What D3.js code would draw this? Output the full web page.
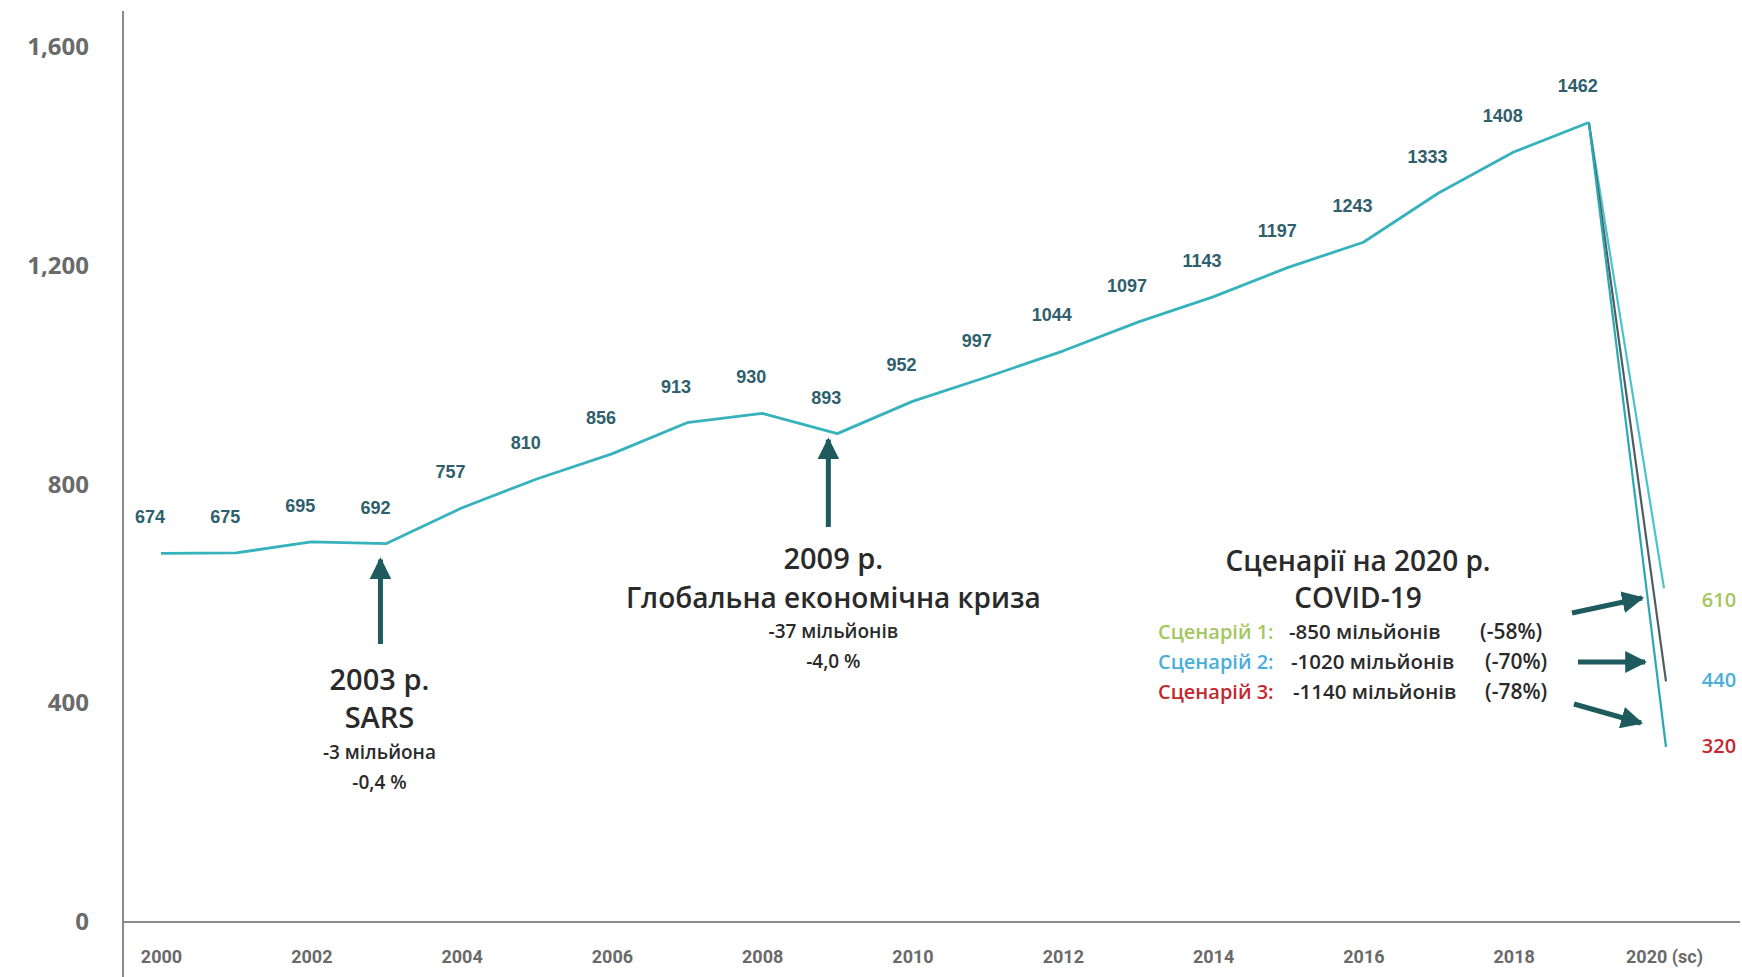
<!DOCTYPE html>
<html>
<head>
<meta charset="utf-8">
<script src="https://cdn.jsdelivr.net/npm/d3@7"></script>
<style>
  body { margin: 0; background: #fff; }
  svg { display: block; }
</style>
</head>
<body>
<svg width="1742" height="977"></svg>
<script>
// data
const years = [2000, 2001, 2002, 2003, 2004, 2005, 2006, 2007, 2008, 2009,
               2010, 2011, 2012, 2013, 2014, 2015, 2016, 2017, 2018, 2019];
const arrivals = [674, 675, 695, 692, 757, 810, 856, 913, 930, 893,
                  952, 997, 1044, 1097, 1143, 1197, 1243, 1333, 1408, 1462];
const scenarioYear = 2020;
const scenarioValues = [610, 440, 320];
const scenarioNames = ["Сценарій 1:", "Сценарій 2:", "Сценарій 3:"];
const scenarioLoss = ["-850 мільйонів", "-1020 мільйонів", "-1140 мільйонів"];
const scenarioPct = ["(-58%)", "(-70%)", "(-78%)"];
const scenarioColors = ["#a4c75f", "#4aaedb", "#c3282e"];
const scenarioLineColors = ["#4cc2cd", "#4f5d61", "#2ba8b2"];
const yTicks = [0, 400, 800, 1200, 1600];
const xTicks = [2000, 2002, 2004, 2006, 2008, 2010, 2012, 2014, 2016, 2018, 2020];

const svg = d3.select("svg");
const teal = "#36b2bd";
const dark = "#1d5b5e";
const font = "'Open Sans', sans-serif";

const x = d3.scaleLinear().domain([2000, 2020]).range([161, 1664]);
const y = d3.scaleLinear().domain([0, 1600]).range([922, 47]);

// arrow head
svg.append("defs").append("marker")
    .attr("id", "head")
    .attr("viewBox", "0 0 10 10")
    .attr("refX", 9)
    .attr("refY", 5)
    .attr("markerWidth", 4.4)
    .attr("markerHeight", 4.4)
    .attr("markerUnits", "strokeWidth")
    .attr("orient", "auto")
    .append("path")
    .attr("d", "M0,0 L10,5 L0,10 z")
    .attr("fill", dark);

// axes
const yAxis = svg.append("g")
    .attr("transform", `translate(123,0)`)
    .call(d3.axisLeft(y).tickValues(yTicks).tickFormat(d3.format(",")).tickSize(0).tickPadding(34));
yAxis.select(".domain").remove();
yAxis.selectAll("text")
    .attr("font-family", font)
    .attr("font-weight", 700)
    .attr("font-size", 24)
    .attr("fill", "#6a6a6a");

const xAxis = svg.append("g")
    .attr("transform", `translate(0,${y(0)})`)
    .call(d3.axisBottom(x).tickValues(xTicks)
        .tickFormat(d => d === 2020 ? "2020 (sc)" : d).tickSize(0).tickPadding(28));
xAxis.select(".domain").remove();
xAxis.selectAll("text")
    .attr("font-family", "Roboto, sans-serif")
    .attr("font-weight", 700)
    .attr("font-size", 18)
    .attr("fill", "#6a6a6a");

svg.append("line")
    .attr("x1", 123).attr("x2", 123)
    .attr("y1", 11).attr("y2", 977)
    .attr("stroke", "#8a8a8a").attr("stroke-width", 2);
svg.append("line")
    .attr("x1", 123).attr("x2", 1740)
    .attr("y1", y(0)).attr("y2", y(0))
    .attr("stroke", "#8a8a8a").attr("stroke-width", 2);

// scenario drops from the last real year
const last = arrivals[arrivals.length - 1];
scenarioValues.forEach((v, i) => {
    svg.append("line")
        .attr("x1", x(2019)).attr("y1", y(last))
        .attr("x2", x(scenarioYear) + (i === 0 ? 0 : 2)).attr("y2", y(v))
        .attr("stroke", scenarioLineColors[i])
        .attr("stroke-width", 2.2);
});

// main line
const line = d3.line()
    .x((d, i) => x(years[i]))
    .y(d => y(d));

svg.append("path")
    .datum(arrivals)
    .attr("d", line)
    .attr("fill", "none")
    .attr("stroke", teal)
    .attr("stroke-width", 2.8)
    .attr("stroke-linejoin", "round");

// value labels
svg.append("g").selectAll("text")
    .data(arrivals)
    .join("text")
    .attr("x", (d, i) => x(years[i]) - 11)
    .attr("y", d => y(d) - 30)
    .attr("text-anchor", "middle")
    .attr("font-family", "'Liberation Sans', Arial, sans-serif")
    .attr("font-weight", 700)
    .attr("font-size", 18)
    .attr("fill", "#2f5f6c")
    .text(d => d);

// vertical annotation arrows
const arrow = (x1, y1, x2, y2) => {
    svg.append("line")
        .attr("x1", x1).attr("y1", y1)
        .attr("x2", x2).attr("y2", y2)
        .attr("stroke", dark)
        .attr("stroke-width", 5)
        .attr("marker-end", "url(#head)");
};

const note = (cx, lines) => {
    lines.forEach(l => {
        svg.append("text")
            .attr("x", cx).attr("y", l[0])
            .attr("text-anchor", "middle")
            .attr("font-family", font)
            .attr("font-weight", 600)
            .attr("font-size", l[2])
            .attr("fill", "#2a2a2a")
            .text(l[1]);
    });
};

arrow(x(2003) - 6, 644, x(2003) - 6, y(692) + 16);
note(x(2003) - 7, [[690, "2003 р.", 29], [728, "SARS", 29], [759, "-3 мільйона", 19], [789, "-0,4 %", 19]]);

arrow(x(2009) - 9, 527, x(2009) - 9, y(893) + 6);
note(x(2009) - 4, [[569, "2009 р.", 29], [608, "Глобальна економічна криза", 28], [638, "-37 мільйонів", 19], [668, "-4,0 %", 19]]);

note(1358, [[571, "Сценарії на 2020 р.", 28], [608, "COVID-19", 28]]);

// scenario rows
scenarioNames.forEach((n, i) => {
    const ty = 639 + i * 30;
    svg.append("text")
        .attr("x", 1158).attr("y", ty)
        .attr("font-family", font).attr("font-weight", 600).attr("font-size", 20)
        .attr("fill", scenarioColors[i])
        .text(n);
    svg.append("text")
        .attr("x", 1289 + i * 2).attr("y", ty)
        .attr("font-family", font).attr("font-weight", 600).attr("font-size", 20.5)
        .attr("fill", "#2a2a2a")
        .text(scenarioLoss[i]);
    svg.append("text")
        .attr("x", 1480 + (i ? 5 : 0)).attr("y", ty)
        .attr("font-family", font).attr("font-weight", 600).attr("font-size", 21)
        .attr("fill", "#2a2a2a")
        .text(scenarioPct[i]);
    svg.append("text")
        .attr("x", 1719).attr("y", y(scenarioValues[i]) + (i === 0 ? 19 : 6))
        .attr("text-anchor", "middle")
        .attr("font-family", font).attr("font-weight", 600).attr("font-size", 20)
        .attr("fill", scenarioColors[i])
        .text(scenarioValues[i]);
});

// pointer arrows to the scenario ends
arrow(1572, 613, 1642, 598);
arrow(1578, 662, 1645, 662);
arrow(1574, 704, 1641, 723);
</script>
</body>
</html>
